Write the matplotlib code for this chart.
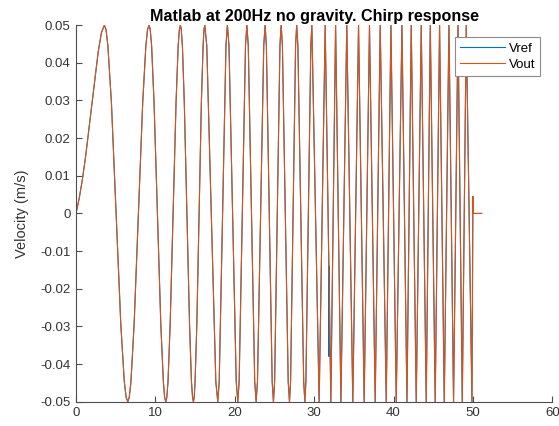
import matplotlib
matplotlib.use("Agg")
import matplotlib.pyplot as plt
from matplotlib.ticker import FuncFormatter

# sampled chirp response (time in s, velocity in m/s), shared by both traces
vel_t = [
    0.0, 0.4, 0.8, 1.2, 1.6, 2.0, 2.4, 2.8, 3.2, 3.57,
    3.78, 4.01, 4.46, 5.05, 5.64, 6.08, 6.31, 6.52,
    6.71, 6.92, 7.32, 7.86, 8.40, 8.80, 9.01, 9.20,
    9.35, 9.52, 9.83, 10.26, 10.68, 11.00, 11.16, 11.31,
    11.44, 11.59, 11.86, 12.23, 12.60, 12.87, 13.02, 13.15,
    13.26, 13.40, 13.64, 13.97, 14.30, 14.54, 14.68, 14.79,
    14.89, 15.00, 15.22, 15.51, 15.79, 16.01, 16.12, 16.22,
    16.47, 17.04, 17.61, 17.86,
    18.04, 18.47, 18.89, 19.07,
    19.27, 19.73, 20.18, 20.38,
    20.55, 20.95, 21.35, 21.52,
    21.70, 22.11, 22.51, 22.69,
    22.86, 23.26, 23.65, 23.82,
    23.98, 24.35, 24.71, 24.87,
    25.02, 25.36, 25.69, 25.84,
    26.00, 26.37, 26.73, 26.89,
    27.03, 27.35, 27.66, 27.80,
    27.95, 28.32, 28.68, 28.83,
    28.96, 29.27, 29.58, 29.71,
    30.63, 31.39, 32.10, 32.70, 33.37, 34.11, 34.87, 35.59, 36.30,
    36.97, 37.69, 38.32, 39.08, 39.67, 40.34, 41.06, 41.69,
    42.23, 42.86, 43.49, 44.12, 44.63, 45.25, 45.80, 46.39,
    46.98, 47.56, 48.12, 48.66, 49.16, 49.88,
    50.0, 50.05, 51.1,
]
vel = [
    0.0, 0.004, 0.009, 0.015, 0.022, 0.029, 0.036, 0.043, 0.048, 0.05,
    0.0488, 0.0446, 0.0294, 0.0, -0.0294, -0.0446, -0.0488, -0.05,
    -0.0488, -0.0446, -0.0294, 0.0, 0.0294, 0.0446, 0.0488, 0.05,
    0.0488, 0.0446, 0.0294, 0.0, -0.0294, -0.0446, -0.0488, -0.05,
    -0.0488, -0.0446, -0.0294, 0.0, 0.0294, 0.0446, 0.0488, 0.05,
    0.0488, 0.0446, 0.0294, 0.0, -0.0294, -0.0446, -0.0488, -0.05,
    -0.0488, -0.0446, -0.0294, 0.0, 0.0294, 0.0446, 0.0488, 0.05,
    0.0446, 0.0, -0.0446, -0.05,
    -0.0446, 0.0, 0.0446, 0.05,
    0.0446, 0.0, -0.0446, -0.05,
    -0.0446, 0.0, 0.0446, 0.05,
    0.0446, 0.0, -0.0446, -0.05,
    -0.0446, 0.0, 0.0446, 0.05,
    0.0446, 0.0, -0.0446, -0.05,
    -0.0446, 0.0, 0.0446, 0.05,
    0.0446, 0.0, -0.0446, -0.05,
    -0.0446, 0.0, 0.0446, 0.05,
    0.0446, 0.0, -0.0446, -0.05,
    -0.0446, 0.0, 0.0446, 0.05,
    -0.05, 0.05, -0.05, 0.05, -0.05, 0.05, -0.05, 0.05, -0.05,
    0.05, -0.05, 0.05, -0.05, 0.05, -0.05, 0.05, -0.05,
    0.05, -0.05, 0.05, -0.05, 0.05, -0.05, 0.05, -0.05,
    0.05, -0.05, 0.05, -0.05, 0.05, -0.05,
    0.0045, 0.0, 0.0,
]

# single-sample spike that only the reference signal has
spike_t = [31.86, 31.87, 31.88]
spike_v = [-0.014, -0.038, -0.014]


def add_spike(t, v, ts, vs):
    i = next(k for k, tk in enumerate(t) if tk > ts[0])
    return t[:i] + ts + t[i:], v[:i] + vs + v[i:]


t_ref, v_ref = add_spike(vel_t, vel, spike_t, spike_v)

plt.rcParams["font.family"] = ["Liberation Sans", "DejaVu Sans"]
ax_col = "#4d4d4d"

fig = plt.figure(figsize=(5.59, 4.26), dpi=100)
ax = fig.add_axes([0.136, 0.057, 0.852, 0.884])

ax.plot(t_ref, v_ref, color="#0072BD", lw=0.8, label="Vref")
ax.plot(vel_t, vel, color="#D95319", lw=0.8, label="Vout")

ax.set_xlim(0, 60)
ax.set_ylim(-0.05, 0.05)
ax.set_xticks(range(0, 61, 10))
ax.set_yticks([k / 100 for k in range(-5, 6)])
ax.yaxis.set_major_formatter(
    FuncFormatter(lambda v, p: "0" if abs(v) < 1e-9 else f"{round(v, 2):g}"))

for s in ["top", "right"]:
    ax.spines[s].set_visible(False)
for s in ["left", "bottom"]:
    ax.spines[s].set_color(ax_col)
    ax.spines[s].set_linewidth(0.8)
ax.tick_params(direction="in", length=4, width=0.8, color=ax_col,
               labelcolor="#333333", labelsize=9.5, pad=4)

ax.set_ylabel("Velocity (m/s)", fontsize=10.5, color="#333333", labelpad=8)
ax.set_title("Matlab at 200Hz no gravity. Chirp response",
             fontsize=11.6, fontweight="bold", pad=3)

leg = ax.legend(loc="upper right", bbox_to_anchor=(0.975, 0.968),
                borderaxespad=0, fontsize=9.5, handlelength=3.4,
                handletextpad=0.3, labelspacing=0.3, borderpad=0.4,
                fancybox=False, framealpha=1)
leg.get_frame().set_edgecolor("#8c8c8c")
leg.get_frame().set_linewidth(0.8)

fig.savefig("out.png", dpi=100)
